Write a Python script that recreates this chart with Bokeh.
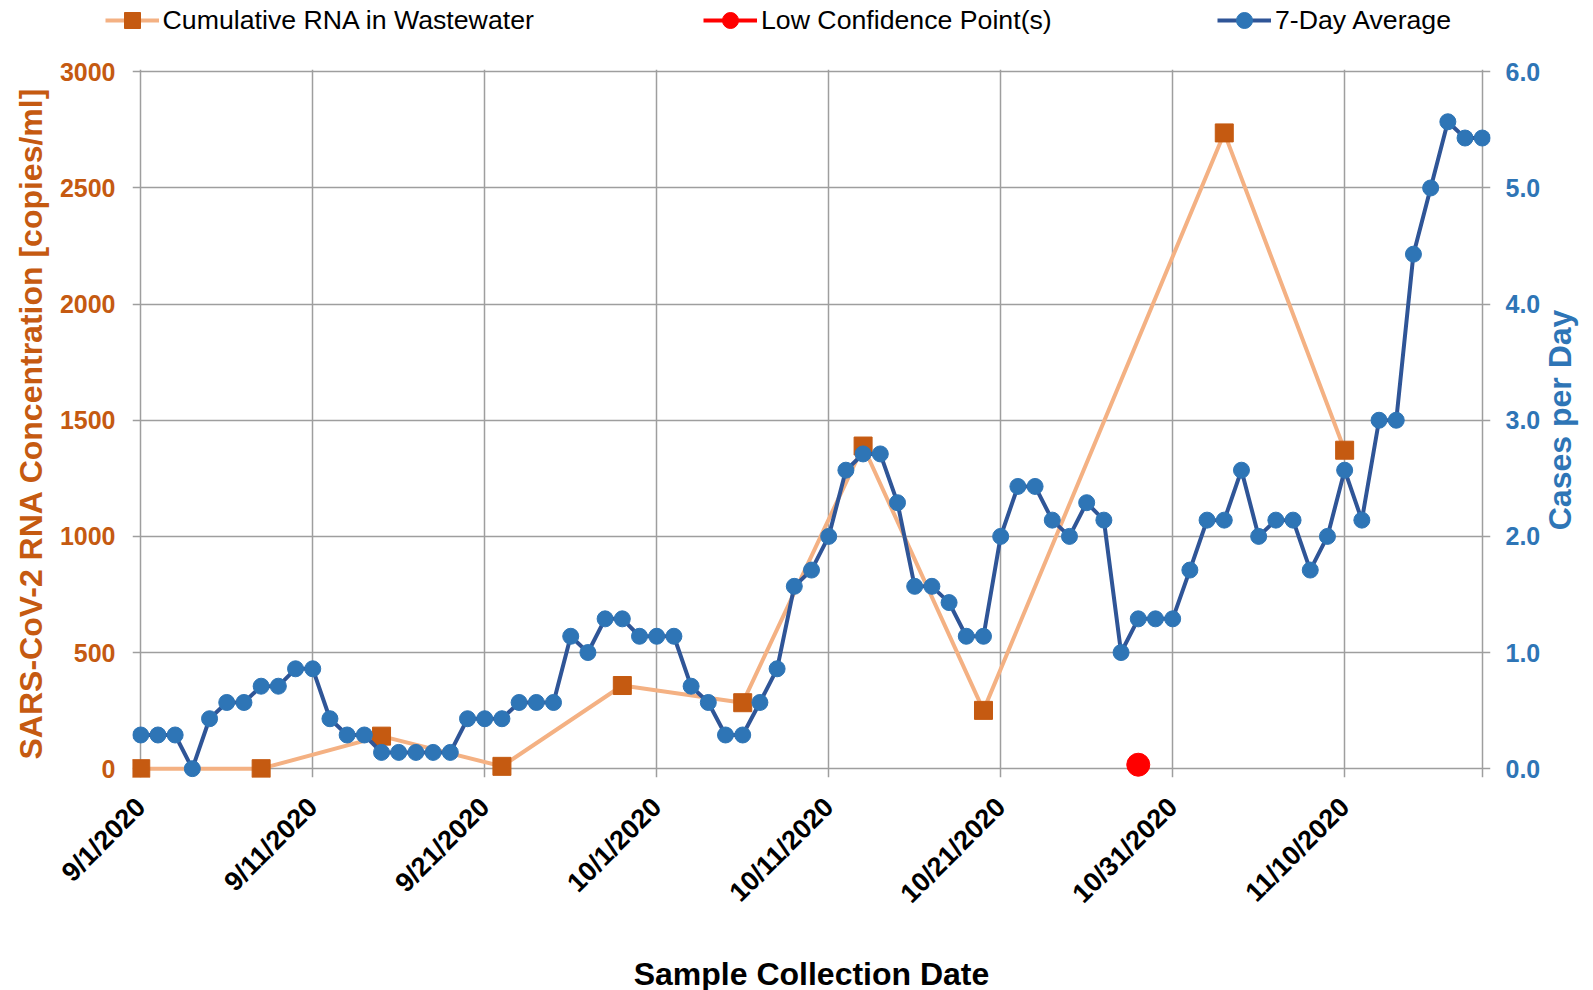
import math
import pandas as pd
from bokeh.plotting import figure
from bokeh.models import (Range1d, LinearAxis, FixedTicker, Legend, LegendItem,
                          ColumnDataSource, PrintfTickFormatter)
from bokeh.embed import file_html
from bokeh.resources import INLINE

# ---------------- data ----------------
start_date = "2020-09-01"
tick_labels = ["9/1/2020", "9/11/2020", "9/21/2020", "10/1/2020",
               "10/11/2020", "10/21/2020", "10/31/2020", "11/10/2020"]

rna_dates = ["2020-09-01", "2020-09-08", "2020-09-15", "2020-09-22", "2020-09-29",
             "2020-10-06", "2020-10-13", "2020-10-20", "2020-11-03", "2020-11-10"]
rna_values = [0, 0, 140, 10, 358, 284, 1389, 251, 2737, 1371]

low_conf_dates = ["2020-10-29"]
low_conf_values = [17]

avg_first_date = "2020-09-01"
avg_values = [0.29, 0.29, 0.29, 0.00, 0.43, 0.57, 0.57, 0.71, 0.71, 0.86,
              0.86, 0.43, 0.29, 0.29, 0.14, 0.14, 0.14, 0.14, 0.14, 0.43,
              0.43, 0.43, 0.57, 0.57, 0.57, 1.14, 1.00, 1.29, 1.29, 1.14,
              1.14, 1.14, 0.71, 0.57, 0.29, 0.29, 0.57, 0.86, 1.57, 1.71,
              2.00, 2.57, 2.71, 2.71, 2.29, 1.57, 1.57, 1.43, 1.14, 1.14,
              2.00, 2.43, 2.43, 2.14, 2.00, 2.29, 2.14, 1.00, 1.29, 1.29,
              1.29, 1.71, 2.14, 2.14, 2.57, 2.00, 2.14, 2.14, 1.71, 2.00,
              2.57, 2.14, 3.00, 3.00, 4.43, 5.00, 5.57, 5.43, 5.43]

left_ticks = [0, 500, 1000, 1500, 2000, 2500, 3000]
right_ticks = [0, 1, 2, 3, 4, 5, 6]

series_names = ["Cumulative RNA in Wastewater", "Low Confidence Point(s)", "7-Day Average"]
x_title = "Sample Collection Date"
left_title = "SARS-CoV-2 RNA Concentration [copies/ml]"
right_title = "Cases per Day"

# ---------------- helpers ----------------
t0 = pd.Timestamp(start_date)


def day_of(ts):
    return (pd.Timestamp(ts) - t0).days


tick_pos = [day_of(pd.to_datetime(s, format="%m/%d/%Y")) for s in tick_labels]
avg_dates = pd.date_range(avg_first_date, periods=len(avg_values), freq="D")
avg_x = [day_of(d) for d in avg_dates]
last_day = avg_x[-1]

rna_src = ColumnDataSource(dict(x=[day_of(d) for d in rna_dates], y=rna_values))
low_src = ColumnDataSource(dict(x=[day_of(d) for d in low_conf_dates], y=low_conf_values))
avg_src = ColumnDataSource(dict(x=avg_x, y=avg_values))

ORANGE = "#C55A11"
ORANGE_LINE = "#F4B183"
BLUE = "#2E75B6"
BLUE_LINE = "#2F5597"
RED = "#FF0000"
FONT = "Liberation Sans"

styles = [
    dict(line=ORANGE_LINE, marker="square", fill=ORANGE, size=18),
    dict(line=RED, marker="circle", fill=RED, size=23),
    dict(line=BLUE_LINE, marker="circle", fill=BLUE, size=16),
]

ratio = left_ticks[-1] / right_ticks[-1]
ymin, ymax = -38, 3010
FRAME_H = 708

# ---------------- main chart ----------------
p = figure(frame_width=1358, frame_height=FRAME_H,
           x_range=Range1d(-0.48, last_day + 0.48),
           y_range=Range1d(ymin, ymax),
           min_border_left=132, min_border_right=103,
           min_border_top=29, min_border_bottom=212,
           output_backend="svg", toolbar_location=None)
p.outline_line_color = None
p.extra_y_ranges = {"cases": Range1d(ymin / ratio, ymax / ratio)}

p.xgrid.ticker = FixedTicker(ticks=tick_pos + [last_day])
p.ygrid.ticker = FixedTicker(ticks=left_ticks)
for g in (p.xgrid[0], p.ygrid[0]):
    g.grid_line_color = "#9E9E9E"
    g.grid_line_width = 1.5

xa = p.xaxis[0]
xa.ticker = FixedTicker(ticks=tick_pos)
xa.major_label_overrides = {pos: lab for pos, lab in zip(tick_pos, tick_labels)}
xa.major_label_orientation = math.pi / 4
xa.axis_label = x_title

ya = p.yaxis[0]
ya.ticker = FixedTicker(ticks=left_ticks)
ya.axis_label = left_title

ra = LinearAxis(y_range_name="cases", ticker=FixedTicker(ticks=right_ticks),
                formatter=PrintfTickFormatter(format="%.1f"))
p.add_layout(ra, "right")

# right-hand title, drawn as a rotated (bottom-to-top) label of an extra axis,
# anchored so that the text is centred on the plot area
units_per_px = (ymax - ymin) / ratio / FRAME_H
title_half_len_px = 110
title_tick = right_ticks[-1] / 2 - title_half_len_px * units_per_px
rt = LinearAxis(y_range_name="cases", ticker=FixedTicker(ticks=[title_tick]))
rt.major_label_overrides = {title_tick: right_title}
rt.major_label_orientation = math.pi / 2
p.add_layout(rt, "right")

for ax, col in ((xa, "black"), (ya, ORANGE), (ra, BLUE), (rt, BLUE)):
    ax.axis_line_color = None
    ax.major_tick_line_color = None
    ax.minor_tick_line_color = None
    ax.major_tick_out = 0
    ax.major_tick_in = 0
    ax.minor_tick_out = 0
    ax.major_label_text_font = FONT
    ax.major_label_text_font_style = "bold"
    ax.major_label_text_font_size = "25px"
    ax.major_label_text_color = col
    ax.axis_label_text_font = FONT
    ax.axis_label_text_font_style = "bold"
    ax.axis_label_text_font_size = "32px"
    ax.axis_label_text_color = col

xa.major_label_text_font_size = "27px"
rt.major_label_text_font_size = "32px"
ya.major_label_standoff = 17
ya.axis_label_standoff = 8
ra.major_label_standoff = 15
rt.major_label_standoff = 17
xa.major_label_standoff = 25
xa.axis_label_standoff = 34

p.line("x", "y", source=rna_src, line_color=ORANGE_LINE, line_width=4)
p.scatter("x", "y", source=rna_src, marker="square", size=styles[0]["size"],
          fill_color=ORANGE, line_color=ORANGE)
p.scatter("x", "y", source=low_src, marker="circle", size=styles[1]["size"],
          fill_color=RED, line_color=RED)
p.line("x", "y", source=avg_src, y_range_name="cases",
       line_color=BLUE_LINE, line_width=4)
p.scatter("x", "y", source=avg_src, y_range_name="cases", marker="circle",
          size=styles[2]["size"], fill_color=BLUE, line_color=BLUE)

# ---------------- legend strip (separate root above the chart) ----------------
lf = figure(width=1593, height=40, x_range=(0, 1), y_range=(0, 1),
            min_border=0, x_axis_location=None, y_axis_location=None,
            output_backend="svg", toolbar_location=None)
lf.outline_line_color = None
lf.grid.visible = False

legend_x = [104.6, 703.0, 1217.0]
nan = float("nan")
for name, st, lx in zip(series_names, styles, legend_x):
    proxy = ColumnDataSource(dict(x=[nan], y=[nan]))
    ln = lf.line("x", "y", source=proxy, line_color=st["line"], line_width=4)
    mk = lf.scatter("x", "y", source=proxy, marker=st["marker"],
                    fill_color=st["fill"], line_color=st["fill"])
    leg = Legend(items=[LegendItem(label=name, renderers=[ln, mk])],
                 location=(lx, 0), orientation="horizontal",
                 padding=0, margin=0, border_line_color=None,
                 background_fill_alpha=0, glyph_width=54, glyph_height=40,
                 label_height=40, label_standoff=4, label_text_font=FONT,
                 label_text_font_size="26.7px", label_text_color="black")
    lf.add_layout(leg, "center")

open("out.html", "w").write(file_html([lf, p], INLINE))
